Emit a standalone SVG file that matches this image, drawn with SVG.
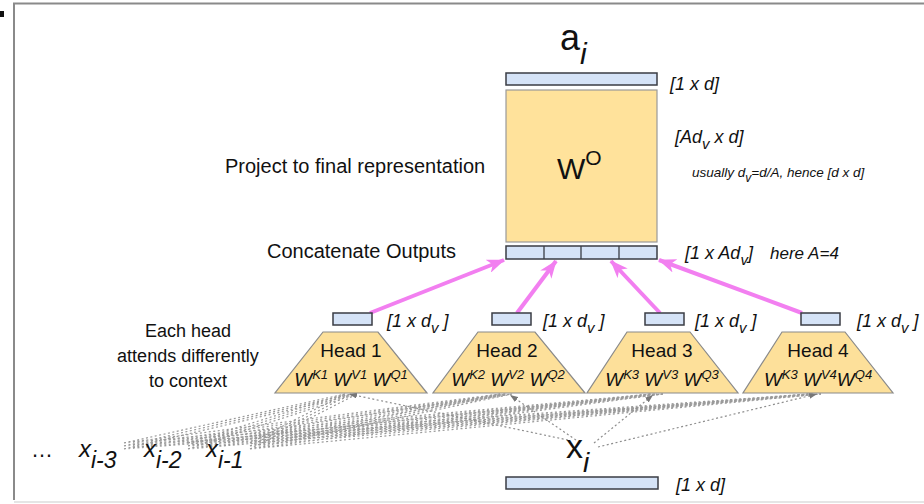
<svg xmlns="http://www.w3.org/2000/svg" width="924" height="504" viewBox="0 0 924 504">
<defs>
<style>
text{font-family:"Liberation Sans",Arial,sans-serif;fill:#111}
.lbl{font-size:20px}
.side{font-size:18px;text-anchor:middle}
.it{font-style:italic}
.dim{font-size:18px;font-style:italic}
.note{font-size:13.5px;font-style:italic}
.bar{fill:#d5e3f7;stroke:#3a3d44;stroke-width:1.5}
.wo{fill:#ffe29b;stroke:#9a9a9a;stroke-width:1.2}
.trap{fill:#fde09a;stroke:#8a8a8a;stroke-width:1.2}
.hd{font-size:19px;text-anchor:middle}
.w{font-size:19px;font-style:italic;text-anchor:middle}
.sup{font-size:13px}
.pink{stroke:#f27ff0;stroke-width:4;fill:none;marker-end:url(#pa)}
.dot{stroke:#9a9a9a;stroke-width:1.2;stroke-dasharray:2 2.5;fill:none}
.dota{stroke:#8e8e8e;stroke-width:1.2;stroke-dasharray:2 2.5;fill:none;marker-end:url(#ga)}
</style>
<marker id="pa" markerUnits="userSpaceOnUse" markerWidth="18" markerHeight="14" refX="17" refY="7" orient="auto">
<path d="M0,0 L18,7 L0,14 L5,7 Z" fill="#f27ff0"/>
</marker>
<marker id="ga" markerUnits="userSpaceOnUse" markerWidth="8" markerHeight="6" refX="8" refY="3" orient="auto">
<path d="M0,0 L8,3 L0,6 Z" fill="#777"/>
</marker>
</defs>

<rect x="0" y="11" width="4" height="6" fill="#111"/>
<path d="M14,500 L14,3.5 L924,3.5" fill="none" stroke="#8a8a8a" stroke-width="2"/>
<line x1="14" y1="502" x2="924" y2="502" stroke="#dddddd" stroke-width="1.5"/>

<g id="connectors">
<path class="pink" d="M370,313 L504,260"/>
<path class="pink" d="M517,313 L556,261"/>
<path class="pink" d="M660,313 L611,261"/>
<path class="pink" d="M802,313 L659,260"/>

<path class="dot" d="M124,443 L345,394 M124,446 L351,394 M124,449 L357,394 M124,443 L500,394 M124,446 L506,394 M124,449 L512,394 M124,443 L651,394 M124,446 L657,394 M124,449 L663,394 M124,443 L809,394 M124,446 L815,394 M124,449 L821,394"/>
<path class="dot" d="M188,443 L345,394 M188,446 L351,394 M188,449 L357,394 M188,443 L500,394 M188,446 L506,394 M188,449 L512,394 M188,443 L651,394 M188,446 L657,394 M188,449 L663,394 M188,443 L809,394 M188,446 L815,394 M188,449 L821,394"/>
<path class="dot" d="M250,443 L345,394 M250,446 L351,394 M250,449 L357,394 M250,443 L500,394 M250,446 L506,394 M250,449 L512,394 M250,443 L651,394 M250,446 L657,394 M250,449 L663,394 M250,443 L809,394 M250,446 L815,394 M250,449 L821,394"/>
<path class="dota" d="M568,440 L349,394"/>
<path class="dota" d="M576,440 L510,395"/>
<path class="dota" d="M594,443 L653,395"/>
<path class="dota" d="M598,447 L817,394"/>
</g>

<g id="ai-label">
<text x="560" y="50" style="font-size:36px">a<tspan class="it" style="font-size:30px" dy="14">i</tspan></text>
</g>

<g id="output-bar">
<rect class="bar" x="506" y="73" width="151" height="12"/>
<text class="dim" x="670" y="90">[1 x d]</text>
</g>

<g id="wo-box">
<rect class="wo" x="506" y="90" width="151" height="152"/>
<text x="557" y="179" style="font-size:30px">W<tspan style="font-size:21px" dy="-14">O</tspan></text>
<text class="dim" x="675" y="143">[Ad<tspan style="font-size:15px" dy="6">v</tspan><tspan dy="-6"> x d]</tspan></text>
<text class="note" x="692" y="177">usually d<tspan style="font-size:12px" dy="5">v</tspan><tspan dy="-5">=d/A, hence [d x d]</tspan></text>
<text class="lbl" x="225" y="173">Project to final representation</text>
</g>

<g id="concat-bar">
<rect class="bar" x="506" y="246" width="151" height="13"/>
<line x1="544" y1="246" x2="544" y2="259" stroke="#3a3d44" stroke-width="1.3"/>
<line x1="581" y1="246" x2="581" y2="259" stroke="#3a3d44" stroke-width="1.3"/>
<line x1="619" y1="246" x2="619" y2="259" stroke="#3a3d44" stroke-width="1.3"/>
<text class="dim" x="685" y="259">[1 x Ad<tspan style="font-size:15px" dy="6">v</tspan><tspan dy="-6">]</tspan><tspan x="770" style="font-size:17px">here A=4</tspan></text>
<text class="lbl" x="267" y="258">Concatenate Outputs</text>
</g>

<g id="heads-label">
<text class="side" x="188" y="337">Each head</text>
<text class="side" x="188" y="362">attends differently</text>
<text class="side" x="188" y="387">to context</text>
</g>

<g id="head1">
<rect class="bar" x="333" y="313" width="39" height="12"/>
<text class="dim" x="387" y="327">[1 x d<tspan style="font-size:15px" dy="6">v</tspan><tspan dy="-6"> ]</tspan></text>
<path class="trap" d="M323,332 L378,332 L427,393 L275,393 Z"/>
<text class="hd" x="351" y="357">Head 1</text>
<text class="w" x="351" y="386">W<tspan class="sup" dy="-7">K1</tspan><tspan dy="7"> W</tspan><tspan class="sup" dy="-7">V1</tspan><tspan dy="7"> W</tspan><tspan class="sup" dy="-7">Q1</tspan></text>
</g>

<g id="head2">
<rect class="bar" x="492" y="313" width="39" height="12"/>
<text class="dim" x="543" y="327">[1 x d<tspan style="font-size:15px" dy="6">v</tspan><tspan dy="-6"> ]</tspan></text>
<path class="trap" d="M478,332 L535,332 L585,393 L433,393 Z"/>
<text class="hd" x="507" y="357">Head 2</text>
<text class="w" x="508" y="386">W<tspan class="sup" dy="-7">K2</tspan><tspan dy="7"> W</tspan><tspan class="sup" dy="-7">V2</tspan><tspan dy="7"> W</tspan><tspan class="sup" dy="-7">Q2</tspan></text>
</g>

<g id="head3">
<rect class="bar" x="645" y="313" width="39" height="12"/>
<text class="dim" x="695" y="327">[1 x d<tspan style="font-size:15px" dy="6">v</tspan><tspan dy="-6"> ]</tspan></text>
<path class="trap" d="M627,332 L690,332 L738,393 L587,393 Z"/>
<text class="hd" x="662" y="357">Head 3</text>
<text class="w" x="662" y="386">W<tspan class="sup" dy="-7">K3</tspan><tspan dy="7"> W</tspan><tspan class="sup" dy="-7">V3</tspan><tspan dy="7"> W</tspan><tspan class="sup" dy="-7">Q3</tspan></text>
</g>

<g id="head4">
<rect class="bar" x="801" y="313" width="39" height="12"/>
<text class="dim" x="857" y="327">[1 x d<tspan style="font-size:15px" dy="6">v</tspan><tspan dy="-6"> ]</tspan></text>
<path class="trap" d="M782,332 L845,332 L893,393 L743,393 Z"/>
<text class="hd" x="818" y="357">Head 4</text>
<text class="w" x="818" y="386">W<tspan class="sup" dy="-7">K3</tspan><tspan dy="7"> W</tspan><tspan class="sup" dy="-7">V4</tspan><tspan dy="7">W</tspan><tspan class="sup" dy="-7">Q4</tspan></text>
</g>

<g id="context">
<text x="31" y="457" style="font-size:22px">…</text>
<text class="it" x="79" y="457" style="font-size:24px">x<tspan style="font-size:23px" dy="11">i-3</tspan></text>
<text class="it" x="144" y="457" style="font-size:24px">x<tspan style="font-size:23px" dy="11">i-2</tspan></text>
<text class="it" x="206" y="457" style="font-size:24px">x<tspan style="font-size:23px" dy="11">i-1</tspan></text>
</g>

<g id="xi">
<text x="566" y="458" style="font-size:34px">x<tspan class="it" style="font-size:28px" dy="14">i</tspan></text>
<rect class="bar" x="506" y="477" width="152" height="12"/>
<text class="dim" x="676" y="491">[1 x d]</text>
</g>
</svg>
